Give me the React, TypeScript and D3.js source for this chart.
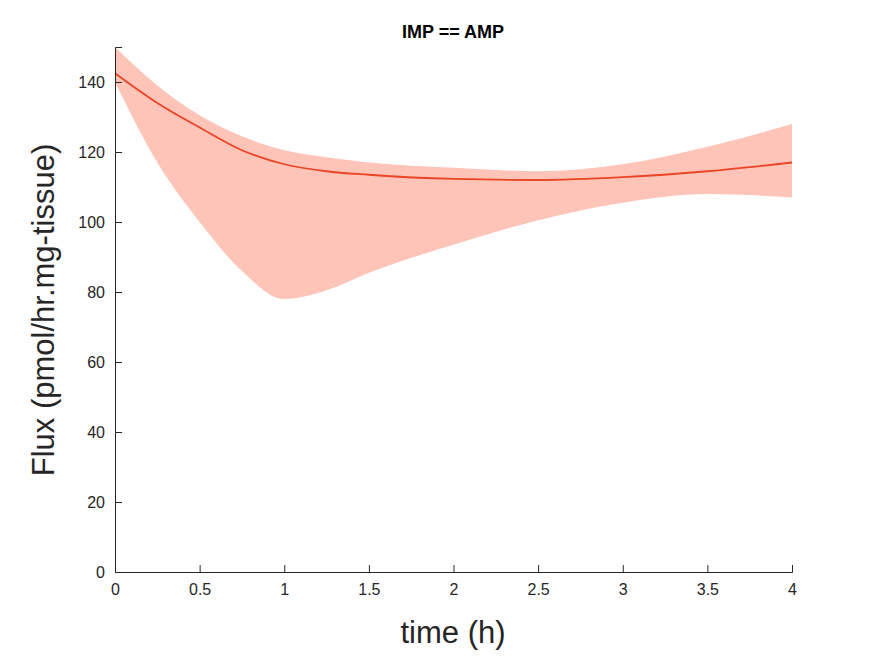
import React, { useEffect, useRef } from 'react'
import * as d3 from 'd3'

const timeH = [0, 0.25, 0.5, 0.75, 1, 1.25, 1.5, 2, 2.5, 3, 3.5, 4]
const meanFlux = [142.5, 134, 127, 120.5, 116.5, 114.5, 113.5, 112.3, 112, 112.8, 114.5, 117]
const upperFlux = [150, 139, 130.5, 124.5, 120.5, 118.5, 117, 115.5, 114.5, 116.5, 121.5, 128]
const lowerFlux = [140, 117, 100, 86, 78, 80.5, 85.5, 93.5, 100.5, 105.5, 108, 107]
const xTicks = [0, 0.5, 1, 1.5, 2, 2.5, 3, 3.5, 4]
const yTicks = [0, 20, 40, 60, 80, 100, 120, 140]

const App: React.FC = () => {
  const svgRef = useRef<SVGSVGElement>(null)

  useEffect(() => {
    if (!svgRef.current) return
    const svg = d3.select(svgRef.current)
    svg.selectAll('*').remove()

    const x = d3.scaleLinear().domain([0, 4]).range([115, 792])
    const y = d3.scaleLinear().domain([0, 150]).range([572, 47])
    const font = 'Helvetica, Arial, "Liberation Sans", sans-serif'

    const rows = timeH.map((t, i) => ({ t, m: meanFlux[i], u: upperFlux[i], l: lowerFlux[i] }))

    const area = d3.area<typeof rows[0]>()
      .x(d => x(d.t)).y0(d => y(d.l)).y1(d => y(d.u))
      .curve(d3.curveMonotoneX)
    svg.append('path').datum(rows).attr('d', area).attr('fill', '#ffc4b8')

    const line = d3.line<typeof rows[0]>().x(d => x(d.t)).y(d => y(d.m)).curve(d3.curveMonotoneX)
    svg.append('path').datum(rows).attr('d', line)
      .attr('fill', 'none').attr('stroke', '#eb4426').attr('stroke-width', 1.8)

    // axes, MATLAB style with inward ticks
    const ax = svg.append('g').attr('transform', 'translate(0,572)')
      .call(d3.axisBottom(x).tickValues(xTicks).tickSize(-7).tickPadding(12).tickFormat(d3.format('')))
    const ay = svg.append('g').attr('transform', 'translate(115,0)')
      .call(d3.axisLeft(y).tickValues(yTicks).tickSize(-7).tickPadding(10))
    for (const a of [ax, ay]) {
      a.attr('font-size', 16).attr('font-family', font)
      a.select('.domain').attr('stroke', '#262626')
      a.selectAll('line').attr('stroke', '#262626')
      a.selectAll('text').style('font-size', '16px').style('font-family', font).attr('fill', '#262626')
    }

    svg.append('text').attr('x', 453).attr('y', 38).attr('text-anchor', 'middle')
      .style('font-family', font).style('font-size', '18px').style('font-weight', 'bold')
      .attr('fill', '#000').text('IMP == AMP')
    svg.append('text').attr('x', 453).attr('y', 643).attr('text-anchor', 'middle')
      .style('font-family', font).style('font-size', '31px').attr('fill', '#262626').text('time (h)')
    svg.append('text').attr('transform', 'translate(54,310) rotate(-90)').attr('text-anchor', 'middle')
      .style('font-family', font).style('font-size', '31px').attr('fill', '#262626')
      .text('Flux (pmol/hr.mg-tissue)')
  }, [])

  return (
    <div style={{ position: 'absolute', left: 0, top: 0, background: '#fff' }}>
      <svg ref={svgRef} width={875} height={656}></svg>
    </div>
  )
}

export default App
